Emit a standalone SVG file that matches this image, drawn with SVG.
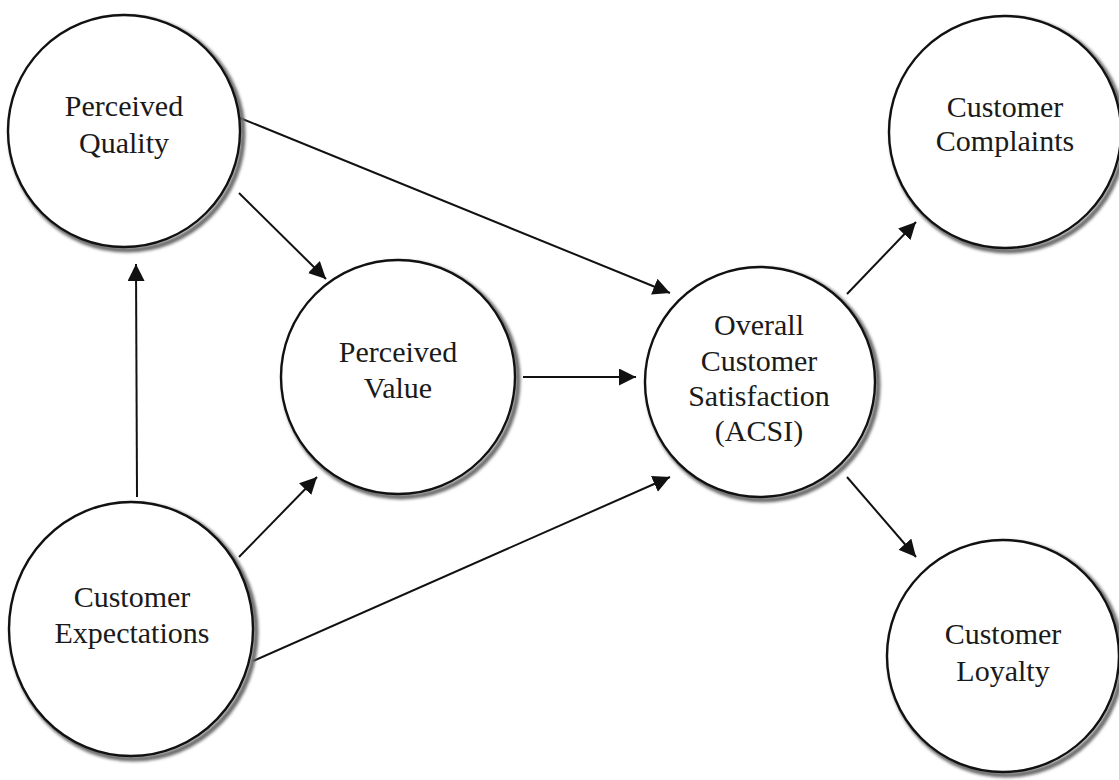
<svg xmlns="http://www.w3.org/2000/svg" width="1119" height="780" viewBox="0 0 1119 780">
  <defs>
    <filter id="soft" x="-20%" y="-20%" width="140%" height="140%">
      <feGaussianBlur stdDeviation="1.5"/>
    </filter>
    <marker id="arrow" markerUnits="userSpaceOnUse" markerWidth="19" markerHeight="19" refX="17" refY="8.5" orient="auto">
      <path d="M0,0 L17,8.5 L0,17 Z" fill="#111"/>
    </marker>
    <style>
      .shadow { fill: none; stroke: #6a6a6a; stroke-width: 5; filter: url(#soft); }
      .node { fill: #fff; stroke: #111; stroke-width: 2.4; }
      .label { font-size: 30px; fill: #1a1a1a; text-anchor: middle; }
      .edge { stroke: #111; stroke-width: 2; fill: none; marker-end: url(#arrow); }
    </style>
  </defs>

  <rect width="1119" height="780" fill="#fff"/>

  <!-- connectors -->
  <g id="connectors">
    <line class="edge" x1="137" y1="497" x2="136" y2="264"/>
    <line class="edge" x1="239" y1="193" x2="326" y2="279"/>
    <line class="edge" x1="240" y1="118" x2="670" y2="293"/>
    <line class="edge" x1="239" y1="557" x2="317" y2="477"/>
    <line class="edge" x1="253" y1="661" x2="670" y2="477"/>
    <line class="edge" x1="523" y1="377" x2="636" y2="377"/>
    <line class="edge" x1="847" y1="294" x2="916" y2="222"/>
    <line class="edge" x1="847" y1="477" x2="916" y2="557"/>
  </g>

  <g font-family="Liberation Serif, Tinos, Times New Roman, serif">
    <g id="perceived-quality">
      <circle class="shadow" cx="127" cy="134" r="116"/>
      <circle class="node" cx="124" cy="131" r="116"/>
      <text class="label" x="124" y="116">Perceived</text>
      <text class="label" x="124" y="153">Quality</text>
    </g>

    <g id="perceived-value">
      <circle class="shadow" cx="401" cy="380" r="117"/>
      <circle class="node" cx="398" cy="377" r="117"/>
      <text class="label" x="398" y="362">Perceived</text>
      <text class="label" x="398" y="398">Value</text>
    </g>

    <g id="overall-satisfaction">
      <circle class="shadow" cx="763" cy="385" r="115"/>
      <circle class="node" cx="760" cy="382" r="115"/>
      <text class="label" x="759" y="335">Overall</text>
      <text class="label" x="759" y="371">Customer</text>
      <text class="label" x="759" y="406">Satisfaction</text>
      <text class="label" x="759" y="441">(ACSI)</text>
    </g>

    <g id="customer-complaints">
      <circle class="shadow" cx="1008" cy="135" r="116"/>
      <circle class="node" cx="1005" cy="132" r="116"/>
      <text class="label" x="1005" y="117">Customer</text>
      <text class="label" x="1005" y="151">Complaints</text>
    </g>

    <g id="customer-loyalty">
      <circle class="shadow" cx="1006" cy="659" r="116"/>
      <circle class="node" cx="1003" cy="656" r="116"/>
      <text class="label" x="1003" y="644">Customer</text>
      <text class="label" x="1003" y="681">Loyalty</text>
    </g>

    <g id="customer-expectations">
      <ellipse class="shadow" cx="134" cy="632" rx="122" ry="127"/>
      <ellipse class="node" cx="131" cy="629" rx="122" ry="127"/>
      <text class="label" x="132" y="607">Customer</text>
      <text class="label" x="132" y="643">Expectations</text>
    </g>
  </g>
</svg>
